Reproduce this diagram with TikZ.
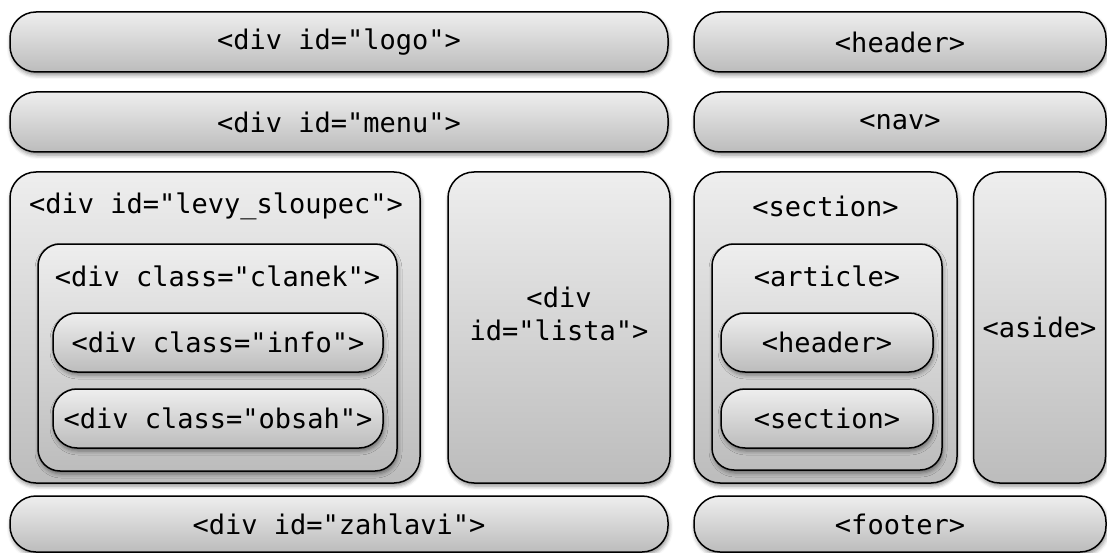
\documentclass[tikz,border=0pt]{standalone}
\usepackage{fontspec}
\setmonofont{DejaVu Sans Mono}
\usetikzlibrary{shadows.blur}
\definecolor{gtop}{RGB}{238,238,238}
\definecolor{gbot}{RGB}{188,188,188}
\tikzset{
  box/.style={draw=black, line width=1.5pt, rounded corners=#1, top color=gtop, bottom color=gbot,
    blur shadow={shadow xshift=1pt, shadow yshift=-3pt, shadow blur radius=4pt, shadow opacity=45},
    inner sep=0pt, outer sep=0pt, font=\fontsize{27}{33}\selectfont\ttfamily, align=center},
  box/.default=26pt,
  lbl/.style={inner sep=0pt, font=\fontsize{27}{33}\selectfont\ttfamily},
}
\begin{document}
\begin{tikzpicture}[x=1pt,y=-1pt]
\useasboundingbox (0,0) rectangle (1107,553);
% row 1
\node[box, minimum width=658, minimum height=60] (logo) at (339,42) {<div id="logo">};
\node[box, minimum width=412, minimum height=60] (header) at (900,42) {<header>};
% row 2
\node[box, minimum width=658, minimum height=60] (menu) at (339,122) {<div id="menu">};
\node[box, minimum width=412, minimum height=60] (nav) at (900,122) {<nav>};
% left column
\node[box, minimum width=410, minimum height=311] (levy) at (215,327.5) {};
\node[lbl] (levyT) at (216,206) {<div id="levy\_sloupec">};
\node[box=22pt, minimum width=359, minimum height=227] (clanek) at (217.5,357.5) {};
\node[lbl] (clanekT) at (217.5,276) {<div class="clanek">};
\node[box=24pt, minimum width=330, minimum height=59] (info) at (218,342.5) {<div class="info">};
\node[box=24pt, minimum width=330, minimum height=59] (obsah) at (218,418.5) {<div class="obsah">};
% lista
\node[box, minimum width=222, minimum height=311] (lista) at (559,327.5) {};
\node[lbl, align=center] (listaT) at (559,314) {<div\\id="lista">};
% section
\node[box, minimum width=263, minimum height=311] (section) at (825.5,327.5) {};
\node[lbl] (sectionT) at (825.5,206) {<section>};
\node[box=22pt, minimum width=230, minimum height=226] (article) at (827,357) {};
\node[lbl] (articleT) at (827,276) {<article>};
\node[box=24pt, minimum width=212, minimum height=59] (header2) at (827,342.5) {<header>};
\node[box=24pt, minimum width=212, minimum height=59] (section2) at (827,418.5) {<section>};
% aside
\node[box, minimum width=132, minimum height=311] (aside) at (1039.5,327.5) {<aside>};
% bottom row
\node[box, minimum width=658, minimum height=56] (zahlavi) at (339,524) {<div id="zahlavi">};
\node[box, minimum width=412, minimum height=56] (footer) at (900,524) {<footer>};
\end{tikzpicture}
\end{document}
